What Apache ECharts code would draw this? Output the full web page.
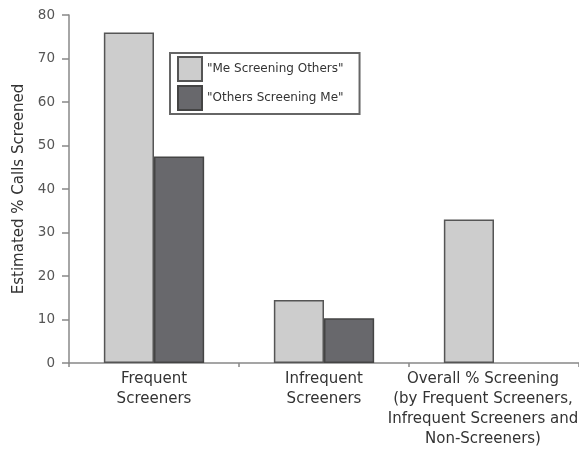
<!DOCTYPE html>
<html>
<head>
<meta charset="utf-8">
<script src="https://cdn.jsdelivr.net/npm/echarts@6/dist/echarts.min.js"></script>
<style>html,body{margin:0;padding:0;background:#fff}#c{width:579px;height:454px}</style>
</head>
<body>
<div id="c"></div>
<script>
const categories = ['Frequent\nScreeners', 'Infrequent\nScreeners', 'Overall % Screening\n(by Frequent Screeners,\nInfrequent Screeners and\nNon-Screeners)'];
const seriesNames = ['"Me Screening Others"', '"Others Screening Me"'];
const meScreeningOthers = [76, 14.5, 33];
const othersScreeningMe = [47.5, 10.3, null];
const yTicks = [0, 80, 10];

const chart = echarts.init(document.getElementById('c'));
chart.setOption({
  backgroundColor: '#fff',
  animation: false,
  textStyle: { fontFamily: 'DejaVu Sans' },
  grid: { left: 69, right: 0, top: 15, bottom: 91, containLabel: false, outerBoundsMode: 'none' },
  legend: {
    orient: 'vertical', left: 170, top: 53,
    icon: 'rect',
    itemWidth: 24, itemHeight: 24, itemGap: 3, itemTextGap: 17,
    padding: [3, 16, 3, 7],
    borderColor: '#666', borderWidth: 2,
    textStyle: { fontSize: 12, color: '#333', fontFamily: 'DejaVu Sans' },
    data: seriesNames
  },
  xAxis: {
    type: 'category', data: categories,
    axisLine: { lineStyle: { color: '#888', width: 1.5 } },
    axisTick: { show: true, length: 4, lineStyle: { color: '#888', width: 1.5 } },
    axisLabel: {
      interval: 0, fontSize: 15, lineHeight: 20, color: '#333', margin: 6,
      formatter: function (value, index) {
        if (index === 2) {
          return value.split('\n').map(function (l) { return '{s|' + l + '}'; }).join('\n');
        }
        return value;
      },
      rich: { s: { fontSize: 15, lineHeight: 20, color: '#333', fontFamily: 'DejaVu Sans', padding: [0, 22, 0, 0] } }
    }
  },
  yAxis: {
    type: 'value', min: yTicks[0], max: yTicks[1], interval: yTicks[2],
    name: 'Estimated % Calls Screened', nameLocation: 'middle', nameGap: 42, nameRotate: 90,
    nameTextStyle: { fontSize: 15, color: '#333' },
    axisLine: { show: true, lineStyle: { color: '#888', width: 1.5 } },
    axisTick: { show: true, length: 7, lineStyle: { color: '#888', width: 1.5 } },
    splitLine: { show: false },
    axisLabel: { fontSize: 13.5, color: '#555', margin: 14 }
  },
  series: [
    { name: seriesNames[0], type: 'bar', data: meScreeningOthers, barGap: '0%', barCategoryGap: '41%',
      itemStyle: { color: '#cdcdcd', borderColor: '#555', borderWidth: 1.5 } },
    { name: seriesNames[1], type: 'bar', data: othersScreeningMe,
      itemStyle: { color: '#68686c', borderColor: '#444', borderWidth: 1.5 } }
  ]
});
</script>
</body>
</html>
